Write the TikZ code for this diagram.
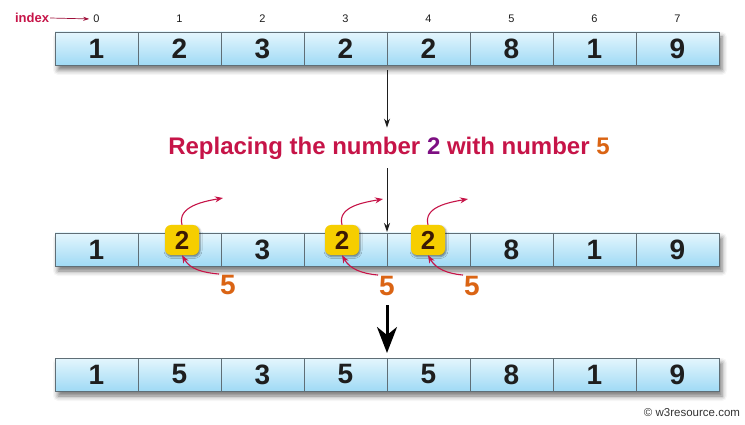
\documentclass[tikz,border=0pt]{standalone}
\usepackage{fontspec}
\setmainfont{Liberation Sans}
\usetikzlibrary{arrows.meta,shadows.blur}
\definecolor{crim}{RGB}{198,20,72}
\definecolor{purp}{RGB}{125,15,130}
\definecolor{orng}{RGB}{218,100,20}
\definecolor{celltop}{RGB}{228,246,253}
\definecolor{cellbot}{RGB}{160,218,245}
\definecolor{cellline}{RGB}{95,110,118}
\definecolor{numtxt}{RGB}{30,30,30}
\definecolor{gold}{RGB}{246,206,0}
\definecolor{boxtxt}{RGB}{60,25,5}
\tikzset{
  cell/.style={draw=cellline, line width=0.8pt, minimum width=83pt, minimum height=33pt,
    inner sep=0pt, outer sep=0pt, top color=celltop, bottom color=cellbot,
    font=\fontsize{28}{28}\selectfont\bfseries, text=numtxt},
  arrshadow/.style={fill=white, blur shadow={shadow xshift=3pt, shadow yshift=-5pt,
    shadow blur radius=5pt, shadow opacity=55}},
  ybox/.style={fill=gold, rounded corners=6pt, minimum width=34pt, minimum height=30pt,
    inner sep=0pt, font=\fontsize{26}{26}\selectfont\bfseries, text=boxtxt,
    blur shadow={shadow xshift=1pt, shadow yshift=-1.5pt, shadow blur radius=2pt, shadow opacity=50}},
  idxlab/.style={font=\fontsize{11}{11}\selectfont, text=numtxt, inner sep=1pt},
  five/.style={font=\fontsize{28}{28}\selectfont\bfseries, text=orng, inner sep=1pt},
  darr/.style={draw=numtxt, line width=1pt, -{Stealth[length=9pt,width=6pt]}},
  carr/.style={draw=crim, line width=1.1pt, -{Stealth[length=8pt,width=6pt]}},
}
\begin{document}
\begin{tikzpicture}[x=1pt,y=-1pt]
\useasboundingbox (0,0) rectangle (745,425);
% shadows
\path[arrshadow] (55,32) rectangle (719,65);
\path[arrshadow] (55,233) rectangle (719,266);
\path[arrshadow] (55,358) rectangle (719,391);
% top array
\foreach \v [count=\i from 0] in {1,2,3,2,2,8,1,9} {
  \node[cell] (a\i) at (96.5+83*\i,48.5) {\v};
  \node[idxlab] (i\i) at (96.5+83*\i,19) {\i};
}
% middle array
\foreach \v [count=\i from 0] in {1,,3,,,8,1,9} {
  \node[cell] (b\i) at (96.5+83*\i,249.5) {\v};
}
% bottom array
\foreach \v [count=\i from 0] in {1,5,3,5,5,8,1,9} {
  \node[cell] (c\i) at (96.5+83*\i,374.5) {\v};
}
% index label
\node[font=\fontsize{13}{13}\selectfont\bfseries, text=crim, inner sep=1pt] (idx) at (32,18) {index};
\draw[draw=crim!80!black, line width=0.7pt, -{Stealth[length=6pt,width=4pt]}, shorten >=3pt] (idx.east) -- (i0.west);
% title
\node[font=\fontsize{24}{24}\selectfont\bfseries, text=crim, inner sep=0pt] (title) at (389,148)
  {Replacing the number \textcolor{purp}{2} with number \textcolor{orng}{5}};
\draw[darr, shorten <=5pt, shorten >=9pt] (a3.south east) -- (title.north -| a3.south east);
\draw[darr, shorten <=9pt, shorten >=1pt] (title.south -| b3.north east) -- (b3.north east);
% yellow boxes
\node[ybox] (y1) at (182,240) {2};
\node[ybox] (y2) at (342,240) {2};
\node[ybox] (y3) at (428,240) {2};
% fives
\node[five] (f1) at (228,285) {5};
\node[five] (f2) at (387,286) {5};
\node[five] (f3) at (472,286) {5};
% outgoing arrows
\coordinate (t1) at (223,198);
\coordinate (t2) at (383,199);
\coordinate (t3) at (468,199);
\foreach \k in {1,2,3} {
  \draw[carr] (y\k.north) to[out=105,in=190] (t\k);
  \draw[carr] (f\k.north west) to[out=175,in=-60] (y\k.south);
}
% bold arrow
\coordinate (s3) at (387,305);
\draw[draw=black, line width=3pt, -{Stealth[length=26pt,width=20pt,inset=8pt]}, shorten >=5pt] (s3) -- (c3.north east);
% watermark
\node[font=\fontsize{11.5}{11.5}\selectfont, text=black!80, inner sep=0pt] (wm) at (692,413) {© w3resource.com};
\end{tikzpicture}
\end{document}
